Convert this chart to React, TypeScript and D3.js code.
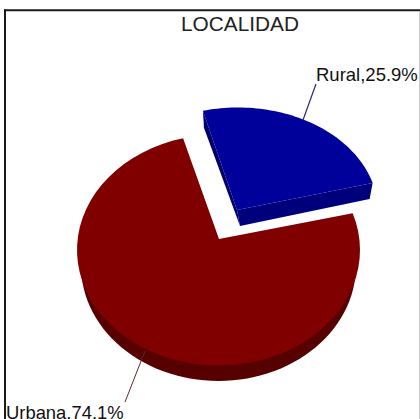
import React from "react";
import * as d3 from "d3";

const categories = ["Rural", "Urbana"];
const percents = [25.9, 74.1];
const chartTitle = "LOCALIDAD";

const deg = Math.PI / 180;
const pie = d3
  .pie<number>()
  .sort(null)
  .startAngle(-14.5 * deg)
  .endAngle(345.5 * deg);
const slices = pie(percents);

type Geo = { cx: number; cy: number; rx: number; ry: number; ax: number; ay: number };
const blueGeo: Geo = { cx: 238, cy: 211.5, rx: 140, ry: 104, ax: 237, ay: 210 };
const redGeo: Geo = { cx: 218.5, cy: 250, rx: 141.5, ry: 115.5, ax: 219, ay: 239 };
const redBase: Geo = { ...redGeo, rx: 137.5, cy: 265.5 };

// the drawn slices are foreshortened a little at their clockwise edge
const blueEndTrim = -4.7 * deg;
const redStartTrim = -7.3 * deg;

const pt = (g: Geo, a: number): [number, number] => [
  g.cx + g.rx * Math.sin(a),
  g.cy - g.ry * Math.cos(a),
];

const arcPts = (g: Geo, a0: number, a1: number) =>
  d3.range(0, 61).map((i) => pt(g, a0 + ((a1 - a0) * i) / 60));

const toPath = (pts: [number, number][]) => d3.line()(pts) + "Z";

const sector = (g: Geo, a0: number, a1: number) =>
  toPath([[g.ax, g.ay], ...arcPts(g, a0, a1)]);

const blue0 = slices[0].startAngle;
const blue1 = slices[0].endAngle + blueEndTrim;
const red0 = slices[1].startAngle + redStartTrim;
const red1 = slices[1].endAngle;

const blueTip = pt(blueGeo, blue0);
const blueEnd = pt(blueGeo, blue1);
const apexB: [number, number] = [blueGeo.ax, blueGeo.ay];
const apexBLow: [number, number] = [apexB[0] + 3, apexB[1] + 16];
const tipLow: [number, number] = [blueTip[0] + 1, blueTip[1] + 17];
const endLow: [number, number] = [blueEnd[0] - 3, blueEnd[1] + 16];

const label = (i: number) => `${categories[i]},${percents[i]}%`;

export default function App() {
  const font = "'Liberation Sans', Arial, sans-serif";
  return (
    <svg
      width={420}
      height={419}
      viewBox="0 0 420 419"
      style={{ position: "fixed", left: 0, top: 0, display: "block", background: "#fff" }}
    >
      <line x1={5} y1={9.3} x2={5} y2={419} stroke="#1a1a1a" strokeWidth={2} />
      <line x1={4} y1={10.3} x2={420} y2={10.3} stroke="#1a1a1a" strokeWidth={2} />
      <line x1={419.5} y1={11} x2={419.5} y2={419} stroke="#c8c8c8" strokeWidth={1} />

      <text x={240} y={31} textAnchor="middle" fontFamily={font} fontSize={20.8} fill="#222">
        {chartTitle}
      </text>

      {/* Urbana slice */}
      <path d={sector(redBase, 90 * deg, 270 * deg)} fill="#560000" />
      <path d={sector(redGeo, red0, red1)} fill="#800000" />
      <line x1={125} y1={402} x2={145} y2={351} stroke="#5a2a2a" strokeWidth={1} />

      {/* Rural slice */}
      <line x1={316} y1={84} x2={303} y2={120} stroke="#2a2a6a" strokeWidth={1.2} />
      <path d={toPath([blueTip, tipLow, apexBLow, apexB])} fill="#00006a" />
      <path d={toPath([apexB, apexBLow, endLow, blueEnd])} fill="#00007c" />
      <path d={sector(blueGeo, blue0, blue1)} fill="#00009a" />

      <text x={316} y={81} fontFamily={font} fontSize={18.5} fill="#111">
        {label(0)}
      </text>
      <text x={6} y={419} fontFamily={font} fontSize={18.4} fill="#111">
        {label(1)}
      </text>
    </svg>
  );
}
